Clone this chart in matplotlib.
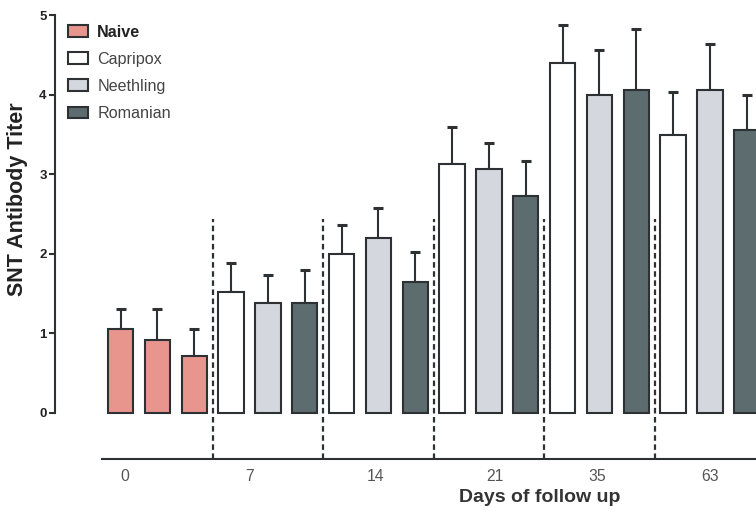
import numpy as np
import matplotlib
matplotlib.use("Agg")
import matplotlib.pyplot as plt
from matplotlib.patches import Patch

plt.rcParams['font.family'] = ['Liberation Sans', 'DejaVu Sans']

# dados
dias = ['0', '7', '14', '21', '35', '63']
grupos = ['Naive', 'Capripox', 'Neethling', 'Romanian']
naive = [1.06, 0.92, 0.72]
naive_err = [0.25, 0.39, 0.33]
capripox = [1.52, 2.00, 3.13, 4.40, 3.49]
capripox_err = [0.36, 0.36, 0.46, 0.47, 0.54]
neethling = [1.38, 2.20, 3.06, 4.00, 4.06]
neethling_err = [0.35, 0.37, 0.33, 0.56, 0.58]
romanian = [1.38, 1.65, 2.73, 4.06, 3.56]
romanian_err = [0.42, 0.37, 0.44, 0.77, 0.43]

cores = {'Naive': '#e8958e', 'Capripox': '#ffffff',
         'Neethling': '#d5d7df', 'Romanian': '#5d6c6e'}
borda = '#2e3133'

fig = plt.figure(figsize=(7.56, 5.12), dpi=100)
ax = fig.add_axes([55 / 756, 1 - 459 / 512, 1 - 55 / 756, (459 - 15) / 512])

largura = 0.69
kw = dict(width=largura, edgecolor=borda, linewidth=1.5, zorder=3)
ekw = dict(fmt='none', ecolor=borda, elinewidth=1.5, capsize=3.6, capthick=2.2, zorder=2)

# dia 0: tres barras naive
x0 = np.arange(len(naive))
ax.bar(x0, naive, color=cores['Naive'], **kw)
ax.errorbar(x0, naive, yerr=[np.zeros(len(naive)), naive_err], **ekw)

# demais dias: capripox, neethling, romanian
series = [('Capripox', capripox, capripox_err),
          ('Neethling', neethling, neethling_err),
          ('Romanian', romanian, romanian_err)]
base = 3 + 3 * np.arange(len(capripox))
for j, (nome, vals, errs) in enumerate(series):
    xs = base + j
    ax.bar(xs, vals, color=cores[nome], **kw)
    ax.errorbar(xs, vals, yerr=[np.zeros(len(vals)), errs], **ekw)

# linhas tracejadas entre os dias
for k in range(1, len(dias)):
    ax.vlines(3 * k - 0.5, -0.578, 2.44, colors=borda, linestyles=(0, (2.5, 1.6)),
              linewidth=1.6, zorder=1)

ax.set_xlim(-1.78, 17.25)
ax.set_ylim(-0.578, 5.0)
ax.set_yticks(range(6))
ax.set_yticklabels([str(i) for i in range(6)], fontweight='bold', fontsize=9.5,
                   color='#222222')
ax.tick_params(axis='y', length=4, width=1.5, color=borda, pad=2)
ax.spines['left'].set_bounds(0, 5)
ax.spines['left'].set_linewidth(1.5)
ax.spines['left'].set_color(borda)
ax.spines['bottom'].set_bounds(-0.5, 17.25)
ax.spines['bottom'].set_linewidth(1.5)
ax.spines['bottom'].set_color(borda)
ax.spines['top'].set_visible(False)
ax.spines['right'].set_visible(False)

tick_pos = [0.12, 3.49, 6.91, 10.16, 12.93, 15.99]
ax.set_xticks(tick_pos)
ax.set_xticklabels(dias, fontsize=11.3, color='#555555')
ax.tick_params(axis='x', length=0, pad=7)

fig.text(540 / 756, 1 - 497 / 512, 'Days of follow up', fontsize=14,
         fontweight='bold', color='#333333', ha='center', va='center')
fig.text(18 / 756, 1 - 199 / 512, 'SNT Antibody Titer', fontsize=15.5,
         fontweight='bold', color='#222222', ha='center', va='center', rotation=90)

handles = [Patch(facecolor=cores[g], edgecolor=borda, linewidth=1.5) for g in grupos]
leg = ax.legend(handles, grupos, loc='upper left', bbox_to_anchor=(0.0, 1.0),
                frameon=False, fontsize=11.6, handlelength=1.25, handleheight=0.72,
                handletextpad=0.55, labelspacing=0.75, borderaxespad=0.2)
for t in leg.get_texts():
    t.set_color('#444444')
leg.get_texts()[0].set_fontweight('bold')
leg.get_texts()[0].set_color('#222222')
leg.set_bbox_to_anchor((0.005, 1.0), transform=ax.transAxes)

fig.savefig('out.png', dpi=100)
